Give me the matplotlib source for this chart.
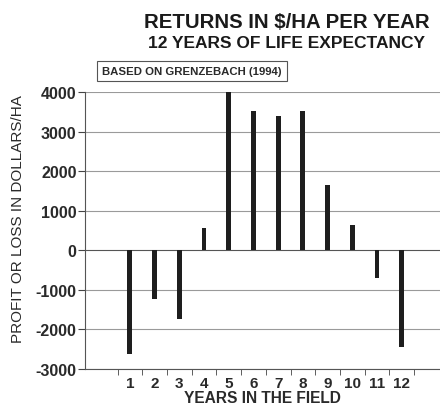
import numpy as np
import matplotlib.pyplot as plt

years = np.arange(1, 13)
returns = [-2620, -1230, -1740, 550, 4000, 3530, 3400, 3520, 1650, 650, -700, -2450]
yticks = [-3000, -2000, -1000, 0, 1000, 2000, 3000, 4000]

plt.rcParams['font.family'] = ['Liberation Sans', 'DejaVu Sans']
plt.rcParams['font.weight'] = 'bold'

fig = plt.figure(figsize=(4.4, 4.1), dpi=100)
ax = fig.add_axes([0.193, 0.098, 0.807, 0.675])

ax.bar(years, returns, width=0.2, color="#1e1e1e", zorder=3)

for y in yticks:
    ax.axhline(y, color="#9a9a9a" if y != 0 else "#555555", linewidth=0.8, zorder=1)

ax.set_xlim(-0.82, 13.55)
ax.set_ylim(-3000, 4000)
ax.set_yticks(yticks)
ax.set_yticklabels([str(v) for v in yticks], fontsize=11.5, fontweight='bold', color="#2a2a2a")
ax.set_xticks(years)
ax.set_xticklabels([str(v) for v in years], fontsize=11, fontweight='bold', color="#2a2a2a")
ax.set_xticks(np.arange(0.5, 13.5, 1), minor=True)
ax.tick_params(axis='x', which='major', length=0, pad=5)
ax.tick_params(axis='x', which='minor', length=4, color="#444444")
ax.tick_params(axis='y', length=5, color="#444444", pad=1)

for side in ['top', 'right']:
    ax.spines[side].set_visible(False)
ax.spines['left'].set_color("#555555")
ax.spines['bottom'].set_color("#555555")

ax.set_xlabel("YEARS IN THE FIELD", fontsize=11.2, fontweight='bold', color="#2a2a2a", labelpad=0)
fig.text(0.041, 1 - 219 / 410, "PROFIT OR LOSS IN DOLLARS/HA", rotation=90, ha='center', va='center',
         fontsize=11, fontweight='normal', color="#2a2a2a")

fig.text(0.652, 0.945, "RETURNS IN $/HA PER YEAR", ha='center', va='center',
         fontsize=14.7, fontweight='bold', color="#1a1a1a")
fig.text(0.652, 0.895, "12 YEARS OF LIFE EXPECTANCY", ha='center', va='center',
         fontsize=12.5, fontweight='bold', color="#1a1a1a")
fig.text(0.232, 0.825, "BASED ON GRENZEBACH (1994)", ha='left', va='center',
         fontsize=8.2, fontweight='bold', color="#2a2a2a",
         bbox=dict(boxstyle='square,pad=0.45', facecolor='white', edgecolor='#555555', linewidth=0.8))

plt.savefig("out.png", dpi=100)
